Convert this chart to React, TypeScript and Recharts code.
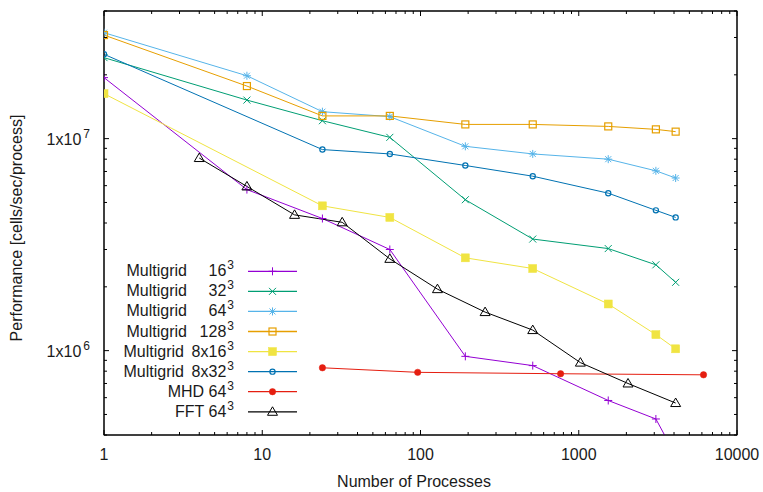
import React from 'react';
import { LineChart, Line, XAxis, YAxis, Customized } from 'recharts';

const FONT = '"Liberation Sans", Arial, Helvetica, sans-serif';
const TEXT = '#1a1a1a';

// ---- data ----
const MG_X = [1, 8, 24, 64, 192, 512, 1536, 3072, 4096];
const MG_16 = [1.94e7, 5.75e6, 4.2e6, 3.0e6, 9.4e5, 8.5e5, 5.82e5, 4.76e5, 3.2e5];
const MG_32 = [2.41e7, 1.52e7, 1.215e7, 1.014e7, 5.15e6, 3.36e6, 3.03e6, 2.54e6, 2.1e6];
const MG_64 = [3.16e7, 1.98e7, 1.34e7, 1.27e7, 9.2e6, 8.47e6, 8.0e6, 7.05e6, 6.52e6];
const MG_128 = [3.08e7, 1.77e7, 1.28e7, 1.28e7, 1.167e7, 1.167e7, 1.142e7, 1.106e7, 1.079e7];

const MG8_X = [1, 24, 64, 192, 512, 1536, 3072, 4096];
const MG_8X16 = [1.63e7, 4.82e6, 4.25e6, 2.74e6, 2.44e6, 1.66e6, 1.19e6, 1.02e6];
const MG_8X32 = [2.5e7, 8.88e6, 8.47e6, 7.47e6, 6.65e6, 5.53e6, 4.59e6, 4.25e6];

const MHD_X = [24, 96, 768, 6144];
const MHD_64 = [8.3e5, 7.9e5, 7.78e5, 7.69e5];

const FFT_X = [4, 8, 16, 32, 64, 128, 256, 512, 1024, 2048, 4096];
const FFT_64 = [8.1e6, 5.95e6, 4.37e6, 4.03e6, 2.71e6, 1.95e6, 1.52e6, 1.25e6, 8.78e5, 7.0e5, 5.66e5];

const X_DOMAIN = [1, 10000];
const Y_DOMAIN = [4e5, 4e7];
const X_MAJOR = [1, 10, 100, 1000, 10000];
const X_LABELS = ['1', '10', '100', '1000', '10000'];
const Y_MAJOR = [1e6, 1e7];
const Y_EXP = ['6', '7'];
const MINOR_MULT = [2, 3, 4, 5, 6, 7, 8, 9];
const X_MINOR = [1, 10, 100, 1000].flatMap((d) => MINOR_MULT.map((m) => m * d));
const Y_MINOR = [4e5, 5e5, 6e5, 7e5, 8e5, 9e5, 2e6, 3e6, 4e6, 5e6, 6e6, 7e6, 8e6, 9e6, 2e7, 3e7, 4e7];
const X_TICKS = [...X_MAJOR, ...X_MINOR].sort((a, b) => a - b);
const Y_TICKS = [...Y_MAJOR, ...Y_MINOR].sort((a, b) => a - b);

const LEGEND_PREFIX = ['Multigrid', 'Multigrid', 'Multigrid', 'Multigrid', 'Multigrid', 'Multigrid', '', ''];
const LEGEND_SIZE = ['16', '32', '64', '128', '8x16', '8x32', 'MHD 64', 'FFT 64'];

// ---- layout ----
const W = 763;
const H = 492;
const LEFT_W = 104;
const RIGHT_W = 26;
const TOP_H = 11;
const BOTTOM_H = 57;

const zip = (xs: number[], ys: number[]) => xs.map((x, i) => ({ x, y: ys[i] }));

type Shape = 'plus' | 'cross' | 'star' | 'osquare' | 'fsquare' | 'ocircle' | 'fcircle' | 'otriangle';

const SERIES: { key: string; color: string; shape: Shape; data: { x: number; y: number }[] }[] = [
  { key: 'mg16', color: '#9400d3', shape: 'plus', data: zip(MG_X, MG_16) },
  { key: 'mg32', color: '#009e73', shape: 'cross', data: zip(MG_X, MG_32) },
  { key: 'mg64', color: '#56b4e9', shape: 'star', data: zip(MG_X, MG_64) },
  { key: 'mg128', color: '#e69f00', shape: 'osquare', data: zip(MG_X, MG_128) },
  { key: 'mg8x16', color: '#f0e442', shape: 'fsquare', data: zip(MG8_X, MG_8X16) },
  { key: 'mg8x32', color: '#0072b2', shape: 'ocircle', data: zip(MG8_X, MG_8X32) },
  { key: 'mhd64', color: '#e51e10', shape: 'fcircle', data: zip(MHD_X, MHD_64) },
  { key: 'fft64', color: '#000000', shape: 'otriangle', data: zip(FFT_X, FFT_64) },
];

const Marker = ({ cx, cy, shape, color }: { cx: number; cy: number; shape: Shape; color: string }) => {
  const s = 4;
  switch (shape) {
    case 'plus':
      return (
        <g stroke={color} strokeWidth={1}>
          <line x1={cx - s} x2={cx + s} y1={cy} y2={cy} />
          <line x1={cx} x2={cx} y1={cy - s} y2={cy + s} />
        </g>
      );
    case 'cross':
      return (
        <g stroke={color} strokeWidth={1}>
          <line x1={cx - 3.5} x2={cx + 3.5} y1={cy - 3.5} y2={cy + 3.5} />
          <line x1={cx - 3.5} x2={cx + 3.5} y1={cy + 3.5} y2={cy - 3.5} />
        </g>
      );
    case 'star':
      return (
        <g stroke={color} strokeWidth={1}>
          <line x1={cx - s} x2={cx + s} y1={cy} y2={cy} />
          <line x1={cx} x2={cx} y1={cy - s} y2={cy + s} />
          <line x1={cx - 3} x2={cx + 3} y1={cy - 3} y2={cy + 3} />
          <line x1={cx - 3} x2={cx + 3} y1={cy + 3} y2={cy - 3} />
        </g>
      );
    case 'osquare':
      return <rect x={cx - 3.5} y={cy - 3.5} width={7} height={7} fill="none" stroke={color} strokeWidth={1.2} />;
    case 'fsquare':
      return <rect x={cx - 4} y={cy - 4} width={8} height={8} fill={color} stroke={color} strokeWidth={0.5} />;
    case 'ocircle':
      return <circle cx={cx} cy={cy} r={2.6} fill="none" stroke={color} strokeWidth={1.2} />;
    case 'fcircle':
      return <circle cx={cx} cy={cy} r={3.2} fill={color} stroke={color} strokeWidth={0.5} />;
    case 'otriangle':
      return (
        <polygon
          points={`${cx},${cy - 5} ${cx - 5},${cy + 3.5} ${cx + 5},${cy + 3.5}`}
          fill="none"
          stroke={color}
          strokeWidth={1}
        />
      );
  }
  return null;
};

const makeDot = (shape: Shape, color: string) => (p: any) => (
  <g key={`dot-${p.index}`}>
    {Number.isFinite(p.cx) && Number.isFinite(p.cy) ? <Marker cx={p.cx} cy={p.cy} shape={shape} color={color} /> : null}
  </g>
);

const MAJ = 5;
const MIN = 3;

const BottomTick = (p: any) => {
  const v = p.payload.value;
  const i = X_MAJOR.indexOf(v);
  const len = i >= 0 ? MAJ : MIN;
  return (
    <g>
      <line x1={p.x} x2={p.x} y1={p.y} y2={p.y - len} stroke="#000" strokeWidth={1} />
      {i >= 0 && (
        <text x={p.x} y={p.y + 25} textAnchor="middle" fontFamily={FONT} fontSize={16} fill={TEXT}>
          {X_LABELS[i]}
        </text>
      )}
    </g>
  );
};

const TopTick = (p: any) => {
  const v = p.payload.value;
  const len = X_MAJOR.includes(v) ? MAJ : MIN;
  return <line x1={p.x} x2={p.x} y1={p.y} y2={p.y + len} stroke="#000" strokeWidth={1} />;
};

const LeftTick = (p: any) => {
  const v = p.payload.value;
  const i = Y_MAJOR.indexOf(v);
  const len = i >= 0 ? MAJ : MIN;
  return (
    <g>
      <line x1={p.x} x2={p.x + len} y1={p.y} y2={p.y} stroke="#000" strokeWidth={1} />
      {i >= 0 && (
        <text x={p.x - 14} y={p.y + 6} textAnchor="end" fontFamily={FONT} fontSize={16} fill={TEXT}>
          1x10
          <tspan dx={2} dy={-7} fontSize={12}>
            {Y_EXP[i]}
          </tspan>
        </text>
      )}
    </g>
  );
};

const RightTick = (p: any) => {
  const v = p.payload.value;
  const len = Y_MAJOR.includes(v) ? MAJ : MIN;
  return <line x1={p.x} x2={p.x - len} y1={p.y} y2={p.y} stroke="#000" strokeWidth={1} />;
};

// border of the plotting area (gnuplot-style box)
const Frame = () => (
  <rect
    x={LEFT_W}
    y={TOP_H}
    width={W - LEFT_W - RIGHT_W}
    height={H - TOP_H - BOTTOM_H}
    fill="none"
    stroke="#000"
    strokeWidth={1}
  />
);

const LegendBox = () => {
  const top = 271.3;
  const step = 20.07;
  return (
    <g>
      {SERIES.map((s, i) => {
        const y = top + i * step;
        const prefixEnd = i < 4 ? 187 : 184;
        return (
          <g key={s.key}>
            {LEGEND_PREFIX[i] && (
              <text x={prefixEnd} y={y + 5} textAnchor="end" fontFamily={FONT} fontSize={16} fill={TEXT}>
                {LEGEND_PREFIX[i]}
              </text>
            )}
            <text x={234} y={y + 5} textAnchor="end" fontFamily={FONT} fontSize={16} fill={TEXT}>
              {LEGEND_SIZE[i]}
              <tspan dx={1} dy={-7} fontSize={12}>
                3
              </tspan>
            </text>
            <line x1={248} x2={297} y1={y} y2={y} stroke={s.color} strokeWidth={1.3} />
            <Marker cx={272.5} cy={y} shape={s.shape} color={s.color} />
          </g>
        );
      })}
    </g>
  );
};

export default function App() {
  return (
    <div style={{ position: 'absolute', left: 0, top: 0, width: W, height: H, background: '#fff' }}>
      <LineChart width={W} height={H} margin={{ top: 0, right: 0, bottom: 0, left: 0 }}>
        <XAxis
          xAxisId="bottom"
          dataKey="x"
          type="number"
          scale="log"
          domain={X_DOMAIN}
          allowDataOverflow
          ticks={X_TICKS}
          interval={0}
          tickSize={0}
          tickMargin={0}
          tickLine={false}
          tick={<BottomTick />}
          height={BOTTOM_H}
          axisLine={{ stroke: '#000', strokeWidth: 1 }}
          label={{
            content: () => (
              <text x={414} y={487} textAnchor="middle" fontFamily={FONT} fontSize={16} fill={TEXT}>
                Number of Processes
              </text>
            ),
          }}
        />
        <XAxis
          xAxisId="top"
          orientation="top"
          dataKey="x"
          type="number"
          scale="log"
          domain={X_DOMAIN}
          allowDataOverflow
          ticks={X_TICKS}
          interval={0}
          tickSize={0}
          tickMargin={0}
          tickLine={false}
          tick={<TopTick />}
          height={TOP_H}
          axisLine={{ stroke: '#000', strokeWidth: 1 }}
        />
        <YAxis
          yAxisId="left"
          type="number"
          scale="log"
          domain={Y_DOMAIN}
          allowDataOverflow
          ticks={Y_TICKS}
          interval={0}
          tickSize={0}
          tickMargin={0}
          tickLine={false}
          tick={<LeftTick />}
          width={LEFT_W}
          axisLine={{ stroke: '#000', strokeWidth: 1 }}
          label={{
            content: () => (
              <text
                x={22}
                y={228}
                transform="rotate(-90 22 228)"
                textAnchor="middle"
                fontFamily={FONT}
                fontSize={16}
                fill={TEXT}
              >
                Performance [cells/sec/process]
              </text>
            ),
          }}
        />
        <YAxis
          yAxisId="right"
          orientation="right"
          type="number"
          scale="log"
          domain={Y_DOMAIN}
          allowDataOverflow
          ticks={Y_TICKS}
          interval={0}
          tickSize={0}
          tickMargin={0}
          tickLine={false}
          tick={<RightTick />}
          width={RIGHT_W}
          axisLine={{ stroke: '#000', strokeWidth: 1 }}
        />
        <Customized component={Frame} />
        {SERIES.map((s) => (
          <Line
            key={s.key}
            xAxisId="bottom"
            yAxisId="left"
            data={s.data}
            dataKey="y"
            name={s.key}
            type="linear"
            stroke={s.color}
            strokeWidth={1}
            dot={makeDot(s.shape, s.color)}
            activeDot={false}
            isAnimationActive={false}
          />
        ))}
        {/* invisible series that ties the mirrored top/right frame axes to the same data */}
        <Line
          xAxisId="top"
          yAxisId="right"
          data={SERIES[7].data}
          dataKey="y"
          name="frame"
          stroke="none"
          dot={false}
          activeDot={false}
          legendType="none"
          isAnimationActive={false}
        />
        <Customized component={LegendBox} />
      </LineChart>
    </div>
  );
}
